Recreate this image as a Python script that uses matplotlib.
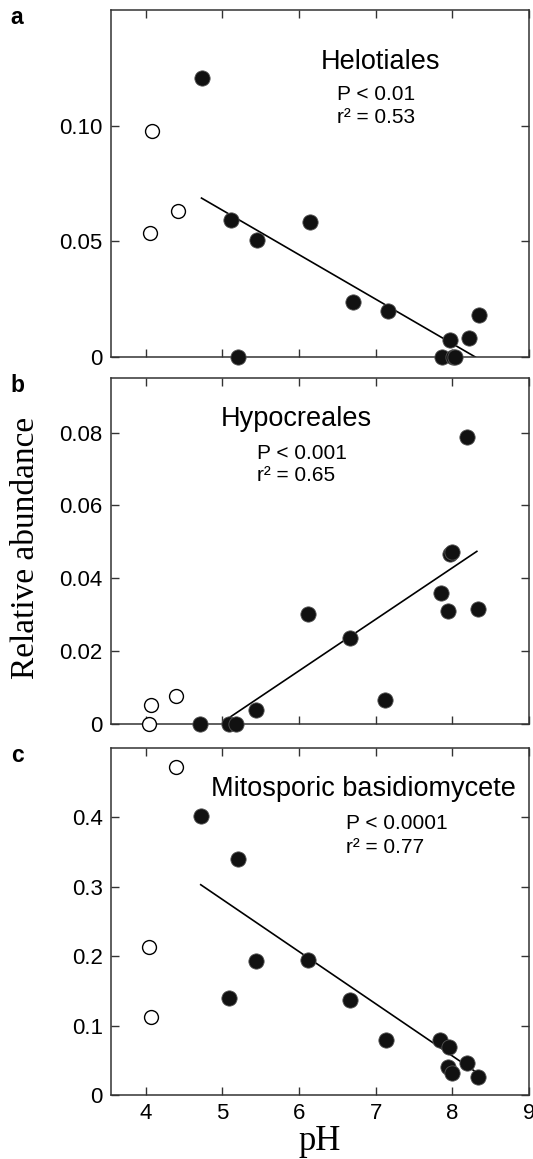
import matplotlib
matplotlib.use("Agg")
import matplotlib.pyplot as plt

# ---- data ----
# open circles: the three most acidic sites
ph_open_a = [4.09, 4.06, 4.42]
ph_open_b = [4.04, 4.07, 4.40]
ph_open_c = [4.04, 4.07, 4.40]
hel_open = [0.0975, 0.0538, 0.0629]
hyp_open = [0.0, 0.0052, 0.0077]
mit_open = [0.2136, 0.1126, 0.4723]

# filled circles
ph_a = [4.73, 5.12, 5.20, 5.46, 6.15, 6.70, 7.16, 7.86, 7.97, 8.01, 8.03, 8.22, 8.35]
hel = [0.1207, 0.0593, 0.0, 0.0507, 0.0582, 0.0237, 0.0201, 0.0, 0.0074, 0.0, 0.0, 0.0081, 0.0182]

ph_b = [4.71, 5.09, 5.18, 5.44, 6.12, 6.66, 7.12, 7.85, 7.95, 7.97, 8.00, 8.19, 8.33]
hyp = [0.0, 0.0, 0.0, 0.0038, 0.0303, 0.0237, 0.0066, 0.0361, 0.0310, 0.0467, 0.0472, 0.0787, 0.0315]

ph_c = [4.72, 5.20, 5.44, 5.09, 6.12, 6.66, 7.13, 7.84, 7.96, 7.94, 7.99, 8.19, 8.33]
mit = [0.4026, 0.340, 0.1934, 0.1404, 0.1948, 0.137, 0.0794, 0.0789, 0.0693, 0.0404, 0.0322, 0.0466, 0.0264]

# regression lines (end points)
fit_a_x, fit_a_y = [4.73, 8.30], [0.0687, 0.0]
fit_b_x, fit_b_y = [5.11, 8.32], [0.0020, 0.0474]
fit_c_x, fit_c_y = [4.72, 8.35], [0.303, 0.030]

yticks_a = [0, 0.05, 0.10]
yticks_b = [0, 0.02, 0.04, 0.06, 0.08]
yticks_c = [0, 0.1, 0.2, 0.3, 0.4]
ylabels_a = ["0", "0.05", "0.10"]
ylabels_b = ["0", "0.02", "0.04", "0.06", "0.08"]
ylabels_c = ["0", "0.1", "0.2", "0.3", "0.4"]
xticks = [4, 5, 6, 7, 8, 9]

SANS = "Liberation Sans"
SERIF = "Liberation Serif"
plt.rcParams["font.family"] = SANS

W, H = 533, 1159
fig = plt.figure(figsize=(W / 100, H / 100), dpi=100)

def axes_at(top, bottom):
    left, right = 111, 529
    return fig.add_axes([left / W, 1 - bottom / H, (right - left) / W, (bottom - top) / H])

def style(ax, ylim, yt, yl, show_x):
    ax.set_xlim(3.55, 9.0)
    ax.set_ylim(*ylim)
    ax.set_xticks(xticks)
    ax.set_yticks(yt)
    ax.set_yticklabels(yl)
    if show_x:
        ax.set_xticklabels([str(t) for t in xticks])
    else:
        ax.set_xticklabels([])
    ax.tick_params(direction="in", top=True, right=True, length=6, width=1,
                   labelsize=16, pad=6, color="#333333")
    for s in ax.spines.values():
        s.set_linewidth(1.1)
        s.set_color("#333333")

def draw(ax, xo, yo, xf, yf, lx, ly):
    ax.plot(lx, ly, color="black", lw=1.2, zorder=2)
    ax.plot(xo, yo, "o", ms=10, mfc="white", mec="black", mew=1.0, zorder=3, clip_on=False)
    ax.plot(xf, yf, "o", ms=11, mfc="#111111", mec="#555555", mew=0.6, zorder=3, clip_on=False)

ax_a = axes_at(10, 357)
ax_b = axes_at(378, 724)
ax_c = axes_at(748, 1095)

draw(ax_a, ph_open_a, hel_open, ph_a, hel, fit_a_x, fit_a_y)
draw(ax_b, ph_open_b, hyp_open, ph_b, hyp, fit_b_x, fit_b_y)
draw(ax_c, ph_open_c, mit_open, ph_c, mit, fit_c_x, fit_c_y)

style(ax_a, (0, 0.15), yticks_a, ylabels_a, False)
style(ax_b, (0, 0.095), yticks_b, ylabels_b, False)
style(ax_c, (0, 0.5), yticks_c, ylabels_c, True)

ax_a.text(6.28, 0.1277, "Helotiales", fontsize=19.5, va="center", ha="left")
ax_a.text(6.50, 0.1134, "P < 0.01", fontsize=15, va="center", ha="left")
ax_a.text(6.50, 0.1035, "r² = 0.53", fontsize=15, va="center", ha="left")

ax_b.text(4.98, 0.0838, "Hypocreales", fontsize=19.5, va="center", ha="left")
ax_b.text(5.45, 0.0742, "P < 0.001", fontsize=15, va="center", ha="left")
ax_b.text(5.45, 0.0682, "r² = 0.65", fontsize=15, va="center", ha="left")

ax_c.text(4.86, 0.4416, "Mitosporic basidiomycete", fontsize=19.5, va="center", ha="left")
ax_c.text(6.61, 0.391, "P < 0.0001", fontsize=15, va="center", ha="left")
ax_c.text(6.61, 0.3565, "r² = 0.77", fontsize=15, va="center", ha="left")

for lab, y in [("a", 17), ("b", 386), ("c", 755)]:
    fig.text(17 / W, 1 - y / H, lab, fontsize=16.5, fontweight="bold", ha="center", va="center")

fig.text(26 / W, 1 - 548 / H, "Relative abundance", family=SERIF, fontsize=24,
         rotation=90, ha="center", va="center")
fig.text(320 / W, 1 - 1142 / H, "pH", family=SERIF, fontsize=25, ha="center", va="center")

fig.savefig("out.png", dpi=100)
